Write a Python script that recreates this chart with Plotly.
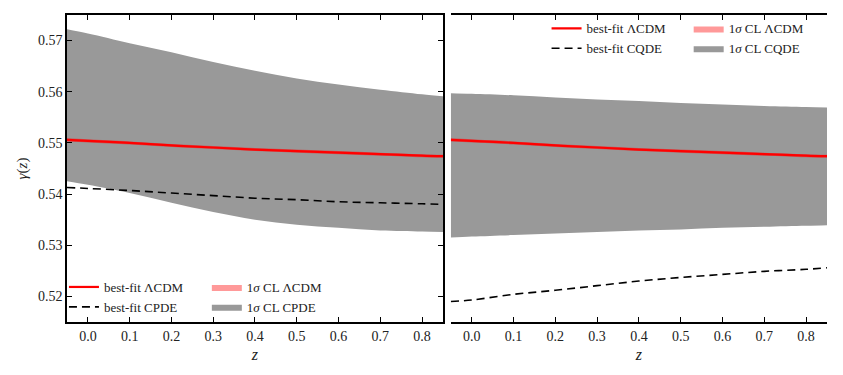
import plotly.graph_objects as go

# redshift grid
z = [-0.05, 0.0, 0.1, 0.2, 0.3, 0.4, 0.5, 0.6, 0.7, 0.8, 0.85]

# best-fit LCDM (same in both panels) and its narrow 1 sigma band
lcdm_best = [0.5506, 0.5504, 0.5500, 0.5495, 0.5491, 0.5487, 0.5484, 0.5481, 0.5478, 0.5475, 0.5474]
lcdm_hi = [0.5509, 0.5507, 0.5503, 0.5498, 0.5494, 0.5490, 0.5487, 0.5484, 0.5481, 0.5478, 0.5477]
lcdm_lo = [0.5503, 0.5501, 0.5497, 0.5492, 0.5488, 0.5484, 0.5481, 0.5478, 0.5475, 0.5472, 0.5471]

# left panel: CPDE
cpde_best = [0.5413, 0.5411, 0.5407, 0.5402, 0.5397, 0.5392, 0.5389, 0.5385, 0.5383, 0.5381, 0.5380]
cpde_hi = [0.5722, 0.5714, 0.5695, 0.5677, 0.5658, 0.5641, 0.5626, 0.5614, 0.5604, 0.5595, 0.5591]
cpde_lo = [0.5425, 0.5418, 0.5402, 0.5383, 0.5365, 0.5350, 0.5340, 0.5334, 0.5329, 0.5327, 0.5326]

# right panel: CQDE
cqde_best = [0.5190, 0.5193, 0.5204, 0.5212, 0.5221, 0.5230, 0.5237, 0.5243, 0.5249, 0.5253, 0.5256]
cqde_hi = [0.5597, 0.5596, 0.5593, 0.5589, 0.5585, 0.5582, 0.5578, 0.5575, 0.5572, 0.5570, 0.5569]
cqde_lo = [0.5315, 0.5317, 0.5320, 0.5323, 0.5326, 0.5329, 0.5331, 0.5334, 0.5336, 0.5338, 0.5339]

x_ticks = [0.0, 0.1, 0.2, 0.3, 0.4, 0.5, 0.6, 0.7, 0.8]
y_ticks = [0.52, 0.53, 0.54, 0.55, 0.56, 0.57]

SERIF = "Liberation Serif"
GRAY = "#999999"
PINK = "rgba(255,0,0,0.4)"

fig = go.Figure()


def add_panel(xa, ya, model, best, hi, lo, leg_a, leg_b):
    # wide gray model band
    fig.add_trace(go.Scatter(x=z, y=lo, xaxis=xa, yaxis=ya, mode="lines",
                             line=dict(width=0, color=GRAY, shape="spline"),
                             showlegend=False, hoverinfo="skip"))
    fig.add_trace(go.Scatter(x=z, y=hi, xaxis=xa, yaxis=ya, mode="lines",
                             line=dict(width=0, color=GRAY, shape="spline"),
                             fill="tonexty", fillcolor=GRAY,
                             name="1<i>σ</i> CL " + model, legend=leg_b, legendrank=2))
    # narrow LCDM band
    fig.add_trace(go.Scatter(x=z, y=lcdm_lo, xaxis=xa, yaxis=ya, mode="lines",
                             line=dict(width=0, color=PINK, shape="spline"),
                             showlegend=False, hoverinfo="skip"))
    fig.add_trace(go.Scatter(x=z, y=lcdm_hi, xaxis=xa, yaxis=ya, mode="lines",
                             line=dict(width=0, color=PINK, shape="spline"),
                             fill="tonexty", fillcolor=PINK,
                             name="1<i>σ</i> CL ΛCDM", legend=leg_b, legendrank=1))
    fig.add_trace(go.Scatter(x=z, y=lcdm_best, xaxis=xa, yaxis=ya, mode="lines",
                             line=dict(width=2.2, color="red", shape="spline"),
                             name="best-fit ΛCDM", legend=leg_a, legendrank=1))
    fig.add_trace(go.Scatter(x=z, y=best, xaxis=xa, yaxis=ya, mode="lines",
                             line=dict(width=1.6, color="black", dash="8px,5px", shape="spline"),
                             name="best-fit " + model, legend=leg_a, legendrank=2))


add_panel("x", "y", "CPDE", cpde_best, cpde_hi, cpde_lo, "legend", "legend2")
add_panel("x2", "y", "CQDE", cqde_best, cqde_hi, cqde_lo, "legend3", "legend4")

axis_common = dict(showline=True, linewidth=1.5, linecolor="black", mirror="ticks",
                   ticks="inside", ticklen=5, tickwidth=1, tickcolor="black",
                   showgrid=False, zeroline=False,
                   tickfont=dict(family=SERIF, size=14, color="#222"))
title_font = dict(family=SERIF, size=16, color="#222")

fig.update_layout(
    xaxis=dict(domain=[0, 0.4947], range=[-0.05, 0.85], tickvals=x_ticks, tickformat=".1f",
               title=dict(text="<i>z</i>", font=title_font, standoff=6),
               **axis_common),
    xaxis2=dict(domain=[0.505, 1], range=[-0.05, 0.85], tickvals=x_ticks, tickformat=".1f",
                title=dict(text="<i>z</i>", font=title_font, standoff=6),
                anchor="y", **axis_common),
    yaxis=dict(range=[0.515, 0.575], tickvals=y_ticks, tickformat=".2f",
               title=dict(text="<i>γ</i>(<i>z</i>)", font=dict(title_font, size=15), standoff=7),
               **axis_common),
)

leg_common = dict(bgcolor="rgba(0,0,0,0)", font=dict(family=SERIF, size=13, color="#222"),
                  orientation="v", tracegroupgap=0, itemwidth=30, traceorder="normal")
fig.update_layout(
    legend=dict(x=-0.004, y=0.0, xanchor="left", yanchor="bottom", **leg_common),
    legend2=dict(x=0.184, y=0.0, xanchor="left", yanchor="bottom", **leg_common),
    legend3=dict(x=0.631, y=1.005, xanchor="left", yanchor="top", **leg_common),
    legend4=dict(x=0.818, y=1.005, xanchor="left", yanchor="top", **leg_common),
    width=843, height=375,
    margin=dict(l=67, r=16, t=15, b=53, autoexpand=False),
    plot_bgcolor="white", paper_bgcolor="white",
)

# drop the default page margin so the figure sits at the window corner
fig.write_html("out.html", config={"displayModeBar": False},
               post_script="document.body.style.margin='0';")
